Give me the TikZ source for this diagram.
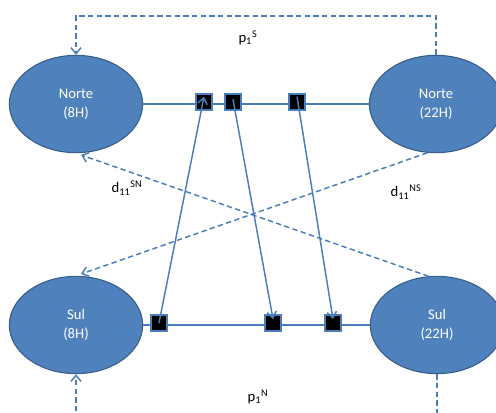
\documentclass[tikz,border=0pt]{standalone}
\usepackage{fontspec}
\setmainfont{Carlito}
\usepackage{tikz}
\usetikzlibrary{shapes.geometric,arrows.meta,calc}
\definecolor{office}{HTML}{4F81BD}
\definecolor{officedark}{HTML}{385D8A}
\definecolor{link}{HTML}{4A7EBB}

\begin{document}
\begin{tikzpicture}[x=0.75pt, y=-0.75pt,
    region/.style={ellipse, draw=officedark, fill=office, line width=0.8pt, minimum width=100pt, minimum height=73pt, text=white, align=center, font=\fontsize{11}{14}\selectfont},
    slot/.style={rectangle, draw=link, fill=black, line width=0.8pt, minimum size=12pt, inner sep=0pt},
    track/.style={draw=link, line width=2.2pt},
    flow/.style={draw=link, line width=1.1pt, -{Straight Barb[length=4.5pt,width=7pt]}},
    dflow/.style={draw=link, line width=1.1pt, dash pattern=on 4pt off 2.5pt, -{Straight Barb[length=4.5pt,width=7.5pt]}},
    dline/.style={draw=link, line width=1.1pt, dash pattern=on 4pt off 2.5pt},
    lbl/.style={font=\fontsize{11}{13}\selectfont}
]
    \useasboundingbox (0,0) rectangle (496,412);
    \clip (0,0) rectangle (496,412);

    \node[region] (n8) at (76,104) {Norte\\(8H)};
    \node[region] (n22) at (436,104) {Norte\\(22H)};
    \node[region] (s8) at (76,325) {Sul\\(8H)};
    \node[region] (s22) at (437,325) {Sul\\(22H)};

    \draw[track] (n8.east) -- (n22.west);
    \draw[track] (s8.east) -- (s22.west);

    \node[slot] (nt1) at (204,102) {};
    \node[slot] (nt2) at (233,102) {};
    \node[slot] (nt3) at (297,102) {};
    \node[slot] (sb1) at (159,323) {};
    \node[slot] (sb2) at (273,323) {};
    \node[slot] (sb3) at (333,323) {};

    \draw[flow] (sb1.center) -- ([yshift=4]nt1.center);
    \draw[flow] ([yshift=2]nt2.center) -- ([yshift=3]sb2.center);
    \draw[flow] ([yshift=4]nt3.center) -- ([yshift=3]sb3.center);

    % penalties between same periods
    \coordinate (ptop) at (255,16);
    \draw[dflow] (n22.north) |- (ptop) -| (n8.north);
    \coordinate (pbot) at (255,420);
    \draw[dline] (s22.south) -- (s22.south |- pbot);
    \draw[dflow] (s8.south |- pbot) -- (s8.south);

    % transfers between regions
    \draw[dflow, shorten >=4pt] (s22.100) -- (n8.south);
    \draw[dflow, shorten >=4pt] (n22.260) -- (s8.north);

    \node[lbl] (ps) at (248,38) {p\textsubscript{1}\textsuperscript{S}};
    \node[lbl] (pn) at (258,397) {p\textsubscript{1}\textsuperscript{N}};
    \node[lbl] (dsn) at (127,188) {d\textsubscript{11}\textsuperscript{SN}};
    \node[lbl] (dns) at (406,192) {d\textsubscript{11}\textsuperscript{NS}};
\end{tikzpicture}
\end{document}
